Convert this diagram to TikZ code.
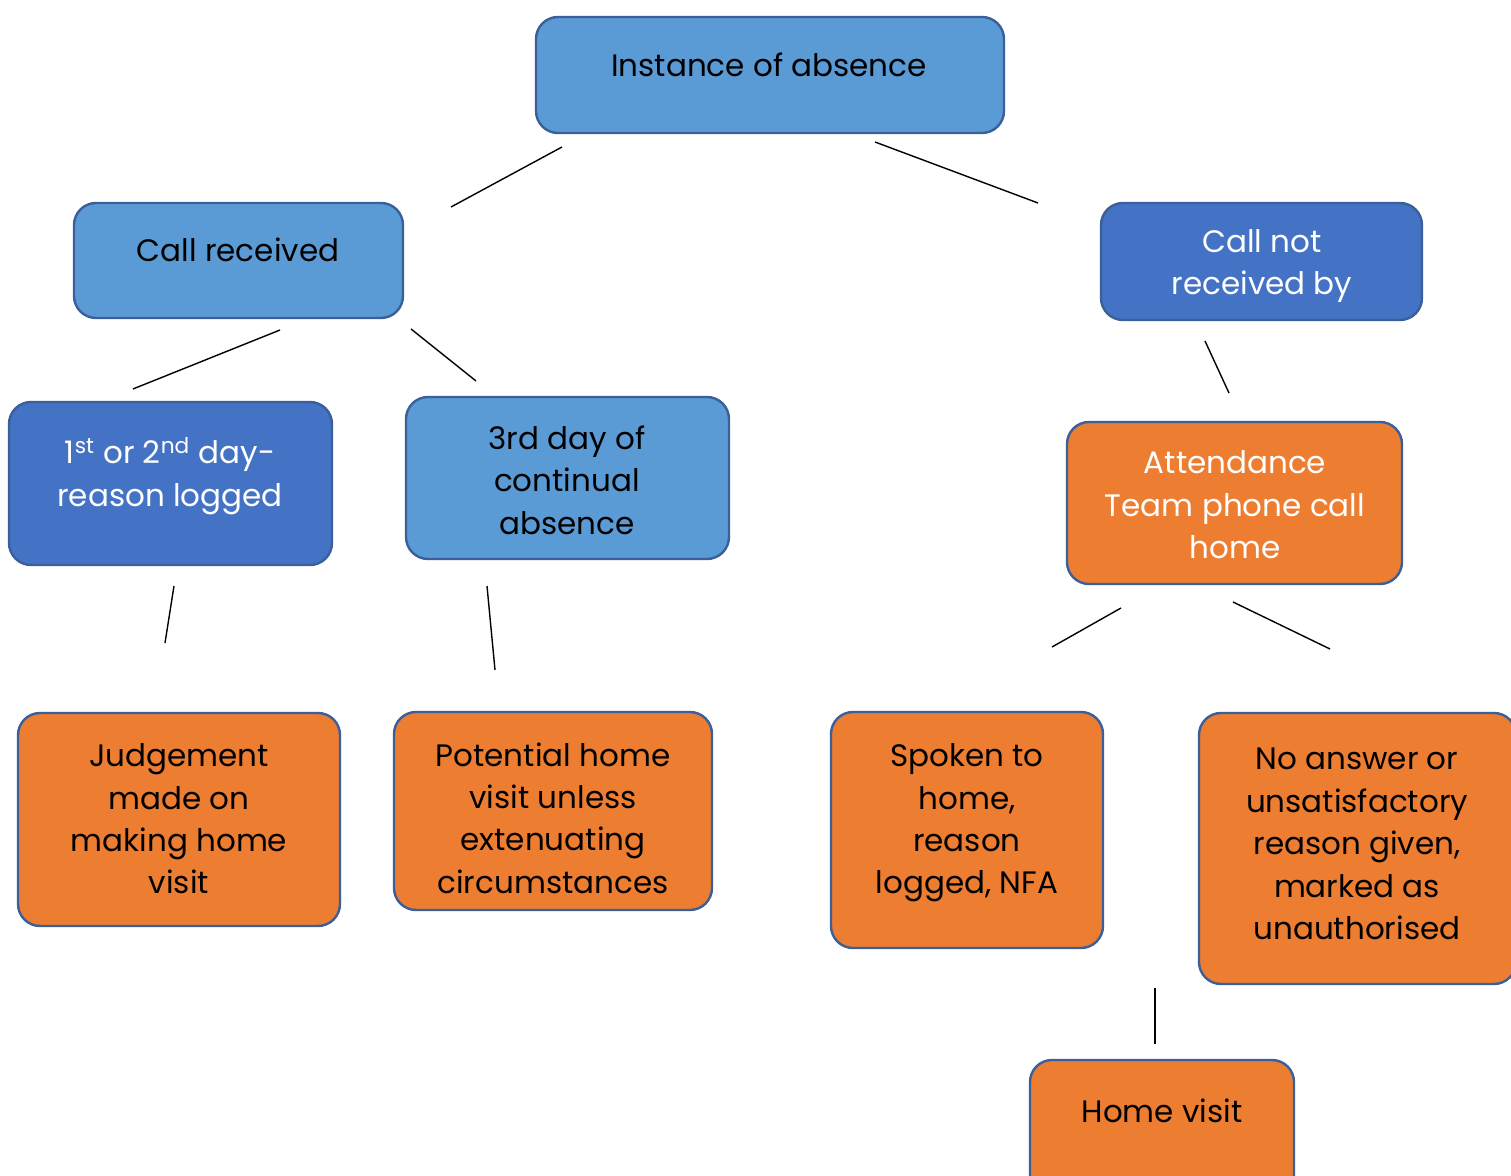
\documentclass[tikz,border=0pt]{standalone}
\usepackage{fontspec}
\setmainfont{Poppins}
\definecolor{lblue}{HTML}{5B9BD5}
\definecolor{dblue}{HTML}{4472C4}
\definecolor{orng}{HTML}{ED7D31}
\definecolor{edge}{HTML}{3A5F9A}
\begin{document}
\begin{tikzpicture}[x=0.5pt,y=-0.5pt,
  box/.style={draw=edge,line width=1.2pt,rounded corners=11pt,inner sep=0pt},
  txt/.style={align=center,inner sep=0pt,font=\fontsize{15.5}{21.2}\selectfont},
  conn/.style={line width=0.7pt,black}]
\useasboundingbox (0,0) rectangle (1511,1176);
% boxes
\newcommand{\mybox}[6]{%
  \path[box,fill=#6] (#1,#2) rectangle (#3,#4);
  \node[inner sep=0pt,minimum width={(#3-#1)*0.5pt},minimum height={(#4-#2)*0.5pt}] (#5) at ({(#1+#3)/2},{(#2+#4)/2}) {};}
\mybox{536}{17}{1004}{133}{inst}{lblue}
\mybox{74}{203}{403}{318}{rec}{lblue}
\mybox{1101}{203}{1422}{320}{notrec}{dblue}
\mybox{9}{402}{332}{565}{first}{dblue}
\mybox{406}{397}{729}{559}{third}{lblue}
\mybox{1067}{422}{1402}{584}{att}{orng}
\mybox{18}{713}{340}{926}{judg}{orng}
\mybox{394}{712}{712}{910}{pot}{orng}
\mybox{831}{712}{1103}{948}{spok}{orng}
\mybox{1199}{713}{1516}{984}{noans}{orng}
\mybox{1030}{1060}{1294}{1200}{home}{orng}
% texts
\node[txt] (tinst) at (769,65) {Instance of absence};
\node[txt] (trec) at (238,250) {Call received};
\node[txt,text=white] (tnot) at (1262,266) {Call not\\received by};
\node[txt,text=white] (tfirst) at (170,476) {1\textsuperscript{st} or 2\textsuperscript{nd} day-\\reason logged};
\node[txt] (tthird) at (567,480) {3rd day of\\continual\\absence};
\node[txt,text=white] (tatt) at (1235,505) {Attendance\\Team phone call\\home};
\node[txt] (tjudg) at (179,819) {Judgement\\made on\\making home\\visit};
\node[txt] (tpot) at (553,818) {Potential home\\visit unless\\extenuating\\circumstances};
\node[txt] (tspok) at (967,823) {Spoken to\\home,\\reason\\logged, NFA};
\node[txt] (tno) at (1357,844) {No answer or\\unsatisfactory\\reason given,\\marked as\\unauthorised};
\node[txt] (thome) at (1162,1111) {Home visit};
% connector end points
\coordinate (c1a) at (562,147); \coordinate (c1b) at (451,207);
\coordinate (c2a) at (875,142); \coordinate (c2b) at (1038,203);
\coordinate (c3a) at (280,330); \coordinate (c3b) at (133,389);
\coordinate (c4a) at (411,329); \coordinate (c4b) at (476,381);
\coordinate (c5a) at (1205,341); \coordinate (c5b) at (1229,393);
\coordinate (c6a) at (174,586); \coordinate (c6b) at (165,643);
\coordinate (c7a) at (487,586); \coordinate (c7b) at (495,670);
\coordinate (c8a) at (1121,608); \coordinate (c8b) at (1052,647);
\coordinate (c9a) at (1233,602); \coordinate (c9b) at (1330,649);
\coordinate (c10a) at (1155,988); \coordinate (c10b) at (1155,1044);
\foreach \i in {1,...,10} \draw[conn] (c\i a) -- (c\i b);
\end{tikzpicture}
\end{document}
